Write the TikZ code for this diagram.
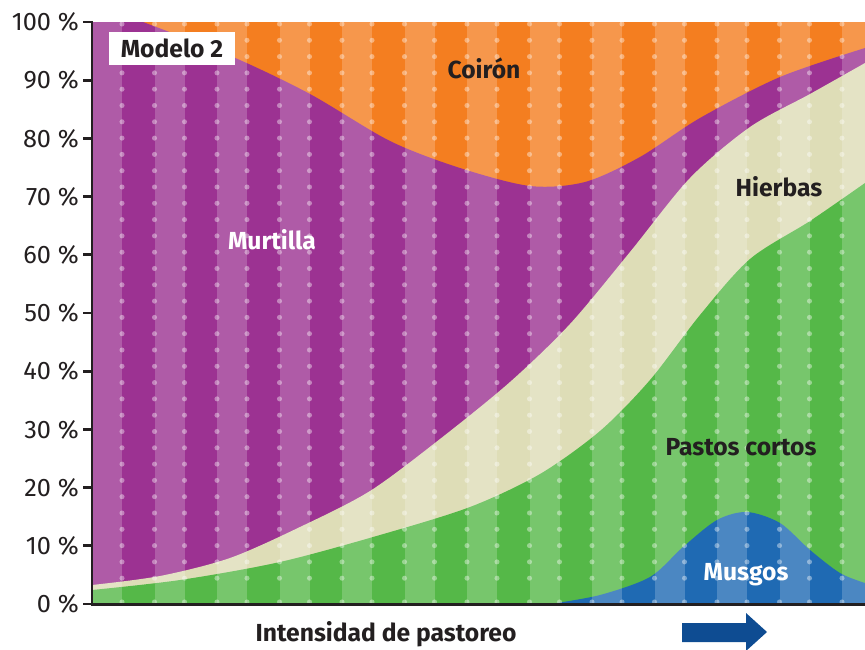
\documentclass[tikz,border=0pt]{standalone}
\usepackage{fontspec}
\setmainfont{Fira Sans}
\usetikzlibrary{positioning}

\definecolor{coironcol}{HTML}{F47E20}
\definecolor{murtillacol}{HTML}{9C3292}
\definecolor{hierbascol}{HTML}{DEDDB7}
\definecolor{pastoscol}{HTML}{55B848}
\definecolor{musgoscol}{HTML}{1F6AB3}
\definecolor{axiscol}{HTML}{231F20}
\definecolor{flechacol}{HTML}{0E4C92}

\tikzset{
  area label/.style={font=\bfseries\fontsize{18.5}{20}\selectfont, text=axiscol, inner sep=0pt},
  tick label/.style={font=\fontsize{19}{21}\selectfont, text=axiscol, anchor=east, inner sep=0pt},
  axis line/.style={line width=2.2pt, draw=axiscol},
}

\begin{document}
\begin{tikzpicture}[x=0.75pt, y=-0.75pt]
\useasboundingbox (0,0) rectangle (865,650);
% areas, from top to bottom
\fill[coironcol] (92,22) rectangle (865,604);
\fill[murtillacol] (92,22) -- (143,22) -- plot[smooth] coordinates {(143,22) (233,57) (310,94) (390,141) (460,168) (530,186) (585,182) (640,157) (700,118) (780,77) (865,48)} -- (865,604) -- (92,604) -- cycle;
\fill[hierbascol] plot[smooth] coordinates {(92,585) (160,576) (230,558) (300,527) (370,491) (440,439) (510,382) (570,324) (630,252) (690,178) (750,127) (810,94) (865,63)} -- (865,604) -- (92,604) -- cycle;
\fill[pastoscol] plot[smooth] coordinates {(92,590) (180,580) (280,562) (380,535) (470,507) (540,474) (600,431) (650,380) (700,315) (750,259) (810,221) (865,183)} -- (865,604) -- (92,604) -- cycle;
\fill[musgoscol] plot[smooth] coordinates {(550,604) (600,595) (650,577) (683,547) (717,520) (747,512) (780,523) (810,550) (840,573) (865,583)} -- (865,604) -- cycle;
% stripes and dots
\begin{scope}
  \clip (92,22) rectangle (865,604);
  \foreach \k in {0,...,12} {
    \fill[white, opacity=0.2] ({92+62.5*\k},22) rectangle ({122+62.5*\k},604);
    \foreach \j in {0,...,34} {
      \fill[white, opacity=0.4] ({122+62.5*\k},{24+16.3*\j}) circle (1.9pt);
      \fill[white, opacity=0.4] ({154.5+62.5*\k},{24+16.3*\j}) circle (1.9pt);
    }
    \fill[white, opacity=0.4] ({122+62.5*\k},602) circle (1.9pt);
    \fill[white, opacity=0.4] ({154.5+62.5*\k},602) circle (1.9pt);
  }
\end{scope}
% axes
\draw[axis line] (92,21) -- (92,604.5) -- (865,604.5);
\foreach \i in {0,...,10} {
  \pgfmathtruncatemacro\pct{10*\i}
  \draw[axis line] (83,{604-58.2*\i}) -- (92,{604-58.2*\i});
  \node[tick label] (t\i) at (79,{604-58.2*\i}) {\pct{} \%};
}
% labels
\node[area label, fill=white, inner xsep=7pt, inner ysep=4pt, minimum width=126*0.75pt, minimum height=33*0.75pt] (modelo) at (172,48.5) {Modelo 2};
\node[area label] (coiron) at (484,68) {Coirón};
\node[area label, text=white] (murtilla) at (272,240) {Murtilla};
\node[area label] (hierbas) at (779,187) {Hierbas};
\node[area label] (pastos) at (741,447) {Pastos cortos};
\node[area label, text=white] (musgos) at (746,575) {Musgos};
\node[area label] (xlabel) at (386,634) {Intensidad de pastoreo};
% arrow
\fill[flechacol] (682,623) -- (746,623) -- (746,613) -- (767,632) -- (746,651) -- (746,642) -- (682,642) -- cycle;
\end{tikzpicture}
\end{document}
